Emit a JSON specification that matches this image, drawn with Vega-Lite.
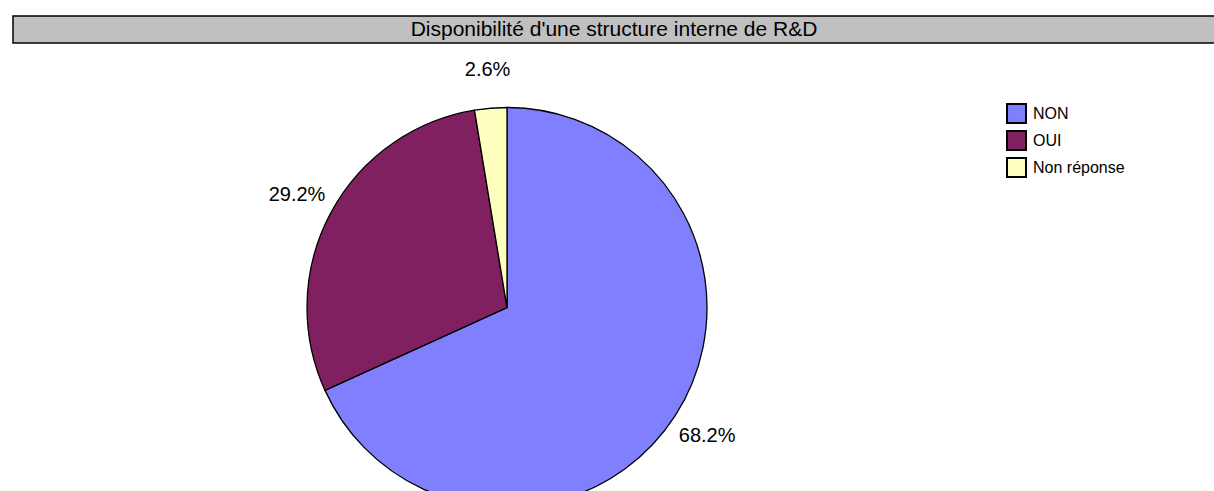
{
  "$schema": "https://vega.github.io/schema/vega-lite/v6.json",
  "padding": {"left": 12, "top": 15, "right": 0, "bottom": 0},
  "background": "white",
  "config": {"view": {"stroke": null}, "font": "Liberation Sans"},
  "spacing": 16,
  "vconcat": [
    {
      "width": 1202,
      "height": 27,
      "view": {"fill": "#c0c0c0", "stroke": "black", "strokeWidth": 1.5},
      "data": {"values": [{"t": "Disponibilité d'une structure interne de R&D"}]},
      "mark": {"type": "text", "font": "Liberation Sans", "fontSize": 21, "color": "black"},
      "encoding": {"text": {"field": "t", "type": "nominal"}}
    },
    {
      "width": 988,
      "height": 433,
      "data": {
        "values": [
          {"cat": "NON", "pct": 68.2, "label": "68.2%"},
          {"cat": "OUI", "pct": 29.2, "label": "29.2%"},
          {"cat": "Non réponse", "pct": 2.6, "label": "2.6%"}
        ]
      },
      "encoding": {
        "theta": {"field": "pct", "type": "quantitative", "stack": true},
        "order": {"field": "pct", "sort": "descending"}
      },
      "layer": [
        {
          "mark": {"type": "arc", "outerRadius": 200, "stroke": "black", "strokeWidth": 1.3},
          "encoding": {
            "color": {
              "field": "cat",
              "type": "nominal",
              "scale": {"domain": ["NON", "OUI", "Non réponse"], "range": ["#8080FF", "#802060", "#FFFFC0"]},
              "legend": {
                "title": null,
                "orient": "none",
                "legendX": 993,
                "legendY": 87,
                "symbolType": "square",
                "symbolSize": 360,
                "symbolStrokeColor": "black",
                "symbolStrokeWidth": 2,
                "symbolOpacity": 1,
                "labelFontSize": 16,
                "labelColor": "black",
                "labelFont": "Liberation Sans",
                "rowPadding": 0,
                "labelOffset": 6
              }
            }
          }
        },
        {
          "mark": {"type": "text", "radius": 238, "fontSize": 20, "font": "Liberation Sans", "color": "black"},
          "encoding": {"text": {"field": "label", "type": "nominal"}}
        }
      ]
    }
  ]
}
